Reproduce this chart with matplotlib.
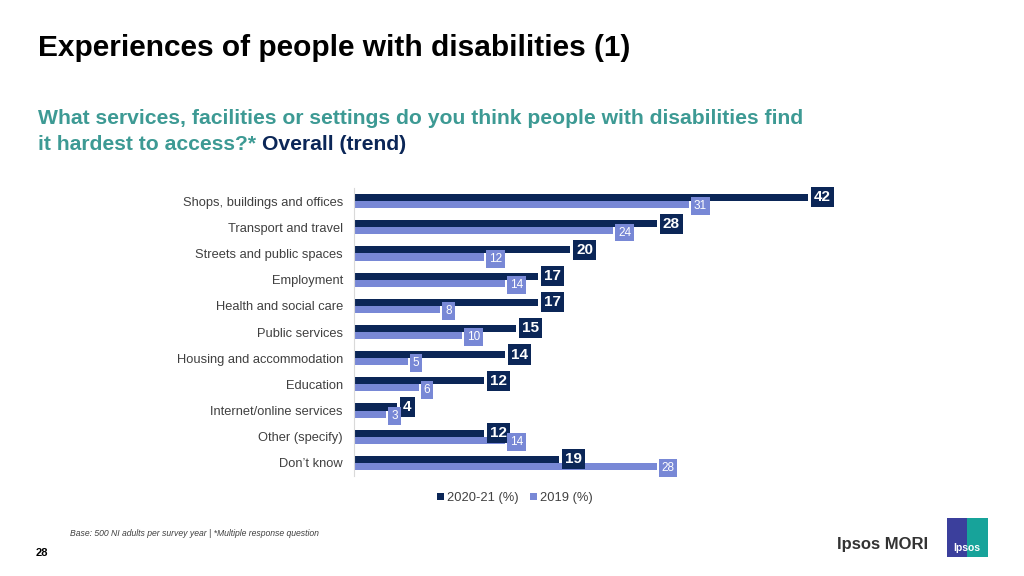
import numpy as np
import matplotlib.pyplot as plt
from matplotlib.patches import Rectangle

# Data
categories = ["Shops, buildings and offices", "Transport and travel", "Streets and public spaces",
              "Employment", "Health and social care", "Public services", "Housing and accommodation",
              "Education", "Internet/online services", "Other (specify)", "Don\u2019t know"]
vals_2021 = [42, 28, 20, 17, 17, 15, 14, 12, 4, 12, 19]
vals_2019 = [31, 24, 12, 14, 8, 10, 5, 6, 3, 14, 28]
series_names = ["2020-21 (%)", "2019 (%)"]

DARK = "#0b2657"
LIGHT = "#7888d6"
TEAL = "#3d9a94"
GREY = "#404040"

plt.rcParams['font.family'] = ['Liberation Sans', 'DejaVu Sans']

fig = plt.figure(figsize=(10.24, 5.76), dpi=100)
ax = fig.add_axes([0.3457, 0.1736, 0.6334, 0.5])

y = np.arange(len(categories))
h = 0.27
ax.barh(y - h / 2, vals_2021, height=h, color=DARK, label=series_names[0])
ax.barh(y + h / 2, vals_2019, height=h, color=LIGHT, label=series_names[1])

for yi, v in zip(y, vals_2021):
    ax.text(v + 0.55, yi - 0.14, str(v), ha='left', va='center', color='white',
            fontsize=11, fontweight='bold',
            bbox=dict(boxstyle='square,pad=0.2', fc=DARK, ec='none'))
for yi, v in zip(y, vals_2019):
    ax.text(v + 0.45, yi + 0.2, str(v), ha='left', va='center', color='white',
            fontsize=8.5,
            bbox=dict(boxstyle='square,pad=0.25', fc=LIGHT, ec='none'))

ax.set_xlim(0, 60)
ax.set_ylim(len(categories) - 0.5, -0.5)
ax.set_yticks(y)
ax.set_yticklabels(categories, fontsize=9.25, color=GREY)
ax.tick_params(axis='y', length=0, pad=8)
ax.set_xticks([])
for s in ['top', 'right', 'bottom']:
    ax.spines[s].set_visible(False)
ax.spines['left'].set_color('#d9d9d9')
ax.spines['left'].set_linewidth(0.8)

leg = fig.legend(loc='center', bbox_to_anchor=(0.503, 0.135), ncol=2, frameon=False,
                 fontsize=9.3, handlelength=0.5, handleheight=0.5, handletextpad=0.25,
                 columnspacing=0.9)
for t in leg.get_texts():
    t.set_color(GREY)

# Titles
fig.text(38 / 1024, 1 - 48 / 576, "Experiences of people with disabilities (1)", fontsize=21.5,
         fontweight='bold', color='black', va='center')
fig.text(38 / 1024, 1 - 118 / 576,
         "What services, facilities or settings do you think people with disabilities find",
         fontsize=15.2, fontweight='bold', color=TEAL, va='center')
t1 = fig.text(38 / 1024, 1 - 144 / 576, "it hardest to access?* ", fontsize=15.2,
              fontweight='bold', color=TEAL, va='center')
fig.canvas.draw()
bb = t1.get_window_extent()
fig.text(bb.x1 / 1024, 1 - 144 / 576, "Overall (trend)", fontsize=15.2,
         fontweight='bold', color=DARK, va='center')

# Footer
fig.text(70 / 1024, 1 - 533 / 576, "Base: 500 NI adults per survey year | *Multiple response question",
         fontsize=6.2, style='italic', color=GREY, va='center')
fig.text(36 / 1024, 1 - 553 / 576, "28", fontsize=8, fontweight='bold', color='black', va='center')

# Logos
fig.text(883 / 1024, 1 - 545 / 576, "Ipsos MORI", fontsize=12, fontweight='bold', color='#333333',
         ha='center', va='center')
fig.patches.append(Rectangle((947 / 1024, 1 - 557 / 576), 20 / 1024, 39 / 576,
                             transform=fig.transFigure, fc='#3b3f9c', ec='none'))
fig.patches.append(Rectangle((967 / 1024, 1 - 557 / 576), 21 / 1024, 39 / 576,
                             transform=fig.transFigure, fc='#17a39a', ec='none'))
fig.text(967 / 1024, 1 - 548 / 576, "Ipsos", fontsize=7.5, fontweight='bold', color='white',
         ha='center', va='center')

fig.savefig("out.png", dpi=100)
